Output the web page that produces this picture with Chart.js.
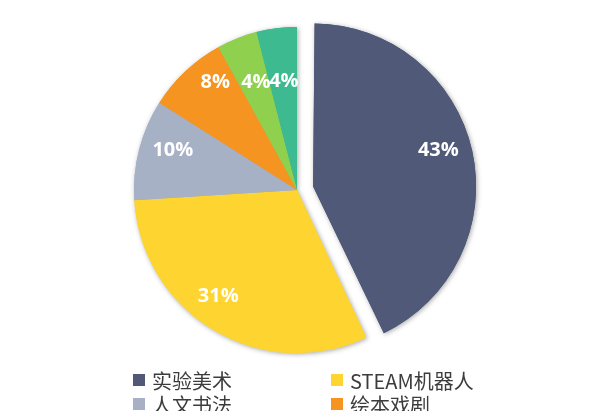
<!DOCTYPE html>
<html>
<head>
<meta charset="utf-8">
<script src="https://cdn.jsdelivr.net/npm/chart.js@4"></script>
<style>
  body { margin: 0; background: #fff; overflow: hidden; }
  #wrap { position: relative; width: 600px; height: 411px; overflow: hidden; }
  #legend {
    position: absolute; left: 133px; top: 368px;
    display: grid; grid-template-columns: 198px 200px; row-gap: 0;
    font-family: "Noto Sans CJK SC", "Noto Sans", sans-serif; font-size: 20px; color: #3c3c3c;
  }
  #legend .item { display: flex; align-items: center; height: 24px; white-space: nowrap; }
  #legend .box { width: 12px; height: 12px; margin-right: 7px; flex: none; }
</style>
</head>
<body>
<div id="wrap">
  <canvas id="myChart" width="600" height="411"></canvas>
  <div id="legend"></div>
</div>
<script>
// Start Data
const categories = ['实验美术', 'STEAM机器人', '人文书法', '绘本戏剧', '科学探究', '自然观察'];
const shares = [43, 31, 10, 8, 4, 4];
const colors = ['#505a78', '#fed530', '#a7b1c5', '#f59421', '#8fd14f', '#3dba8f'];
// End Data

// label placement per slice (fraction of radius, angle nudge in degrees)
const labelRadius = [0.80, 0.81, 0.80, 0.83, 0.71, 0.67];
const labelNudge = [-3.6, 6, 3.4, 6, 0.8, 0.3];

// keep exploded slice at the same radius as the others
const keepRadius = {
  id: 'keepRadius',
  afterDatasetUpdate(chart, args) {
    args.meta.data.forEach(function(arc) {
      const off = arc.options.offset || 0;
      if (!off) return;
      const fix = 1 - Math.sin(Math.min(Math.PI, arc.circumference));
      arc.outerRadius -= off / 4 * fix;
    });
  }
};

// soft shadow behind the slices
const softShadow = {
  id: 'softShadow',
  beforeDatasetsDraw(chart) {
    const ctx = chart.ctx;
    ctx.save();
    ctx.shadowColor = 'rgba(0,0,0,0.35)';
    ctx.shadowBlur = 5;
    ctx.shadowOffsetX = 1;
    ctx.shadowOffsetY = 1;
    chart.getDatasetMeta(0).data.forEach(function(arc) { arc.draw(ctx); });
    ctx.restore();
  }
};

// percentage labels inside the slices
const sliceLabels = {
  id: 'sliceLabels',
  afterDatasetsDraw(chart) {
    const ctx = chart.ctx;
    const meta = chart.getDatasetMeta(0);
    const radius = meta.controller.outerRadius;
    ctx.save();
    ctx.fillStyle = '#ffffff';
    ctx.font = 'bold 20px "Open Sans", sans-serif';
    ctx.textAlign = 'center';
    ctx.textBaseline = 'middle';
    meta.data.forEach(function(arc, i) {
      const off = (arc.options.offset || 0) / 4;
      const mid = (arc.startAngle + arc.endAngle) / 2;
      const cx = arc.x + Math.cos(mid) * off;
      const cy = arc.y + Math.sin(mid) * off;
      const a = mid + labelNudge[i] * Math.PI / 180;
      const r = radius * labelRadius[i];
      ctx.fillText(shares[i] + '%', cx + Math.cos(a) * r, cy + Math.sin(a) * r);
    });
    ctx.restore();
  }
};

const ctx = document.getElementById('myChart');

new Chart(ctx, {
  type: 'pie',
  data: {
    labels: categories,
    datasets: [{
      data: shares,
      backgroundColor: colors,
      borderWidth: 0,
      offset: shares.map(function(v, i) { return i === 0 ? 66 : 0; })
    }]
  },
  options: {
    responsive: false,
    animation: false,
    events: [],
    radius: 163,
    layout: { padding: { top: 19, bottom: 50, left: 0, right: 6 } },
    plugins: {
      legend: { display: false },
      tooltip: { enabled: false }
    }
  },
  plugins: [keepRadius, softShadow, sliceLabels]
});

// Start Legend
const legend = document.getElementById('legend');
categories.forEach(function(name, i) {
  const item = document.createElement('div');
  item.className = 'item';
  const box = document.createElement('span');
  box.className = 'box';
  box.style.background = colors[i];
  const text = document.createElement('span');
  text.textContent = name;
  item.appendChild(box);
  item.appendChild(text);
  legend.appendChild(item);
});
// End Legend
</script>
</body>
</html>
